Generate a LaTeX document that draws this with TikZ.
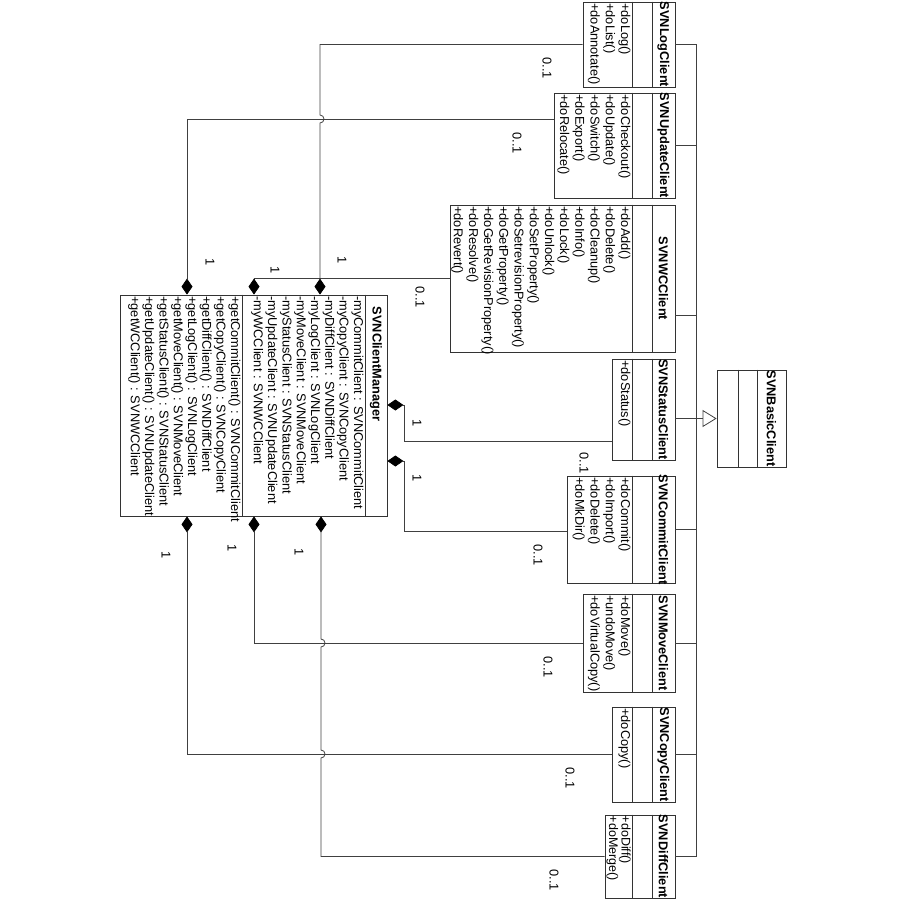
\documentclass[tikz,border=0pt]{standalone}
\usepackage{fontspec}
\setmainfont{Liberation Sans}
\usetikzlibrary{arrows.meta,fit}

\tikzset{
  classbox/.style={draw=black!80, fill=white, line width=0.8pt, inner sep=0pt},
  compart/.style={draw=black!80, line width=0.8pt},
  ctitle/.style={rotate=-90, font=\fontsize{12.8}{15.2}\selectfont\bfseries, inner sep=0pt},
  cops/.style={rotate=-90, anchor=north west, align=left, font=\fontsize{12.8}{15.2}\selectfont, inner sep=1.5pt},
  mops/.style={cops, font=\fontsize{12.8}{14.3}\selectfont},
  assoc/.style={draw=black!75, line width=0.8pt, arrows={Diamond[length=16pt,width=11pt,color=black]-}},
  genline/.style={draw=black!75, line width=0.8pt},
  mult/.style={rotate=-90, font=\fontsize{12.8}{15}\selectfont, inner sep=0pt}
}

\begin{document}
\begin{tikzpicture}[x=1pt, y=-1pt]
    \useasboundingbox (0,0) rectangle (900,900);

    % Subclasses on the right
    \node[classbox, fit={(583,2) (675,87)}] (log) {};
    \node[classbox, fit={(554,93) (675,198)}] (update) {};
    \node[classbox, fit={(450,205) (675,352)}] (wc) {};
    \node[classbox, fit={(612,359) (675,460)}] (status) {};
    \node[classbox, fit={(567,476) (675,583)}] (commit) {};
    \node[classbox, fit={(583,594) (675,692)}] (move) {};
    \node[classbox, fit={(612,707) (675,802)}] (copy) {};
    \node[classbox, fit={(605,815) (675,898)}] (diff) {};
    \foreach \c in {log,update,wc,status,commit,move,copy,diff}{
        \draw[compart] (652,0 |- \c.north) -- (652,0 |- \c.south);
        \draw[compart] (632,0 |- \c.north) -- (632,0 |- \c.south);
    }

    \node[ctitle] (logT) at (663.5,0 |- log.center) {SVNLogClient};
    \node[cops] (logO) at (632,0 |- log.north) {+doLog()\\+doList()\\+doAnnotate()};
    \node[ctitle] (updateT) at (663.5,0 |- update.center) {SVNUpdateClient};
    \node[cops] (updateO) at (632,0 |- update.north) {+doCheckout()\\+doUpdate()\\+doSwitch()\\+doExport()\\+doRelocate()};
    \node[ctitle] (wcT) at (663.5,0 |- wc.center) {SVNWCClient};
    \node[cops] (wcO) at (632,0 |- wc.north) {+doAdd()\\+doDelete()\\+doCleanup()\\+doInfo()\\+doLock()\\+doUnlock()\\+doSetProperty()\\+doSetrevisionProperty()\\+doGetProperty()\\+doGetRevisionProperty()\\+doResolve()\\+doRevert()};
    \node[ctitle] (statusT) at (663.5,0 |- status.center) {SVNStatusClient};
    \node[cops] (statusO) at (632,0 |- status.north) {+doStatus()};
    \node[ctitle] (commitT) at (663.5,0 |- commit.center) {SVNCommitClient};
    \node[cops] (commitO) at (632,0 |- commit.north) {+doCommit()\\+doImport()\\+doDelete()\\+doMkDir()};
    \node[ctitle] (moveT) at (663.5,0 |- move.center) {SVNMoveClient};
    \node[cops] (moveO) at (632,0 |- move.north) {+doMove()\\+undoMove()\\+doVirtualCopy()};
    \node[ctitle] (copyT) at (663.5,0 |- copy.center) {SVNCopyClient};
    \node[cops] (copyO) at (632,0 |- copy.north) {+doCopy()};
    \node[ctitle] (diffT) at (663.5,0 |- diff.center) {SVNDiffClient};
    \node[cops, inner sep=1pt, font=\fontsize{12.5}{11.5}\selectfont] (diffO) at (632,0 |- diff.north) {+doDiff()\\+doMerge()};

    % Base class
    \node[classbox, fit={(717,370) (786,467)}] (basic) {};
    \draw[compart] (738,0 |- basic.north) -- (738,0 |- basic.south);
    \draw[compart] (757,0 |- basic.north) -- (757,0 |- basic.south);
    \node[ctitle] (basicT) at (771.5,0 |- basic.center) {SVNBasicClient};

    % Manager
    \node[classbox, fit={(120,295) (387,516)}] (mgr) {};
    \draw[compart] (365,0 |- mgr.north) -- (365,0 |- mgr.south);
    \draw[compart] (242,0 |- mgr.north) -- (242,0 |- mgr.south);
    \node[ctitle] (mgrT) at (376,364) {SVNClientManager};
    \node[mops] (mgrA) at (365,0 |- mgr.north) {-myCommitClient : SVNCommitClient\\-myCopyClient : SVNCopyClient\\-myDiffClient : SVNDiffClient\\-myLogClient : SVNLogClient\\-myMoveClient : SVNMoveClient\\-myStatusClient : SVNStatusClient\\-myUpdateClient : SVNUpdateClient\\-myWCClient : SVNWCClient};
    \node[mops] (mgrO) at (242,0 |- mgr.north) {+getCommitClient() : SVNCommitClient\\+getCopyClient() : SVNCopyClient\\+getDiffClient() : SVNDiffClient\\+getLogClient() : SVNLogClient\\+getMoveClient() : SVNMoveClient\\+getStatusClient() : SVNStatusClient\\+getUpdateClient() : SVNUpdateClient\\+getWCClient() : SVNWCClient};

    % Generalization bus
    \coordinate (bus) at (696,0);
    \draw[genline] (log.east) -- (log.east -| bus) -- (diff.east -| bus) -- (diff.east);
    \foreach \c in {update,commit,move,copy}
        \draw[genline] (\c.east) -- (\c.east -| bus);
    \draw[genline] (wc.east |- 0,315) -- (bus |- 0,315);
    \draw[genline, -{Triangle[open,length=14pt,width=17pt]}] (status.east |- basic.west) -- (basic.west);

    % Compositions from the manager
    \draw[assoc] (mgr.north -| 187,0) |- (update.west |- 0,119);
    \draw[assoc] (mgr.north -| 254,0) |- (wc.west);
    \draw[assoc] (mgr.north -| 320,0) -- (320,123) arc[start angle=-90, end angle=90, radius=4pt] -- (320,0 |- log.west) -- (log.west);
    \draw[assoc] (mgr.east |- 0,405) -- (404,405) |- (status.west |- 0,441);
    \draw[assoc] (mgr.east |- 0,461) -- (404,461) |- (commit.west |- 0,531);
    \draw[assoc] (mgr.south -| 254,0) |- (move.west);
    \draw[assoc] (mgr.south -| 187,0) |- (copy.west);
    \draw[assoc] (mgr.south -| 321,0) -- (321,639) arc[start angle=90, end angle=-90, radius=4pt]
        -- (321,750) arc[start angle=90, end angle=-90, radius=4pt] -- (321,0 |- diff.west) -- (diff.west);

    % Multiplicities
    \node[mult] (mUpd1) at (210,262) {1};
    \node[mult] (mUpd2) at (517,143) {0..1};
    \node[mult] (mLog1) at (342,260) {1};
    \node[mult] (mLog2) at (547,68) {0..1};
    \node[mult] (mWc1) at (275,270) {1};
    \node[mult] (mWc2) at (420,297) {0..1};
    \node[mult] (mSta1) at (417,423) {1};
    \node[mult] (mSta2) at (584,463) {0..1};
    \node[mult] (mCom1) at (417,478) {1};
    \node[mult] (mCom2) at (538,555) {0..1};
    \node[mult] (mMov1) at (232,548) {1};
    \node[mult] (mMov2) at (548,667) {0..1};
    \node[mult] (mCop1) at (166,555) {1};
    \node[mult] (mCop2) at (570,778) {0..1};
    \node[mult] (mDif1) at (299,552) {1};
    \node[mult] (mDif2) at (554,880) {0..1};
\end{tikzpicture}
\end{document}
